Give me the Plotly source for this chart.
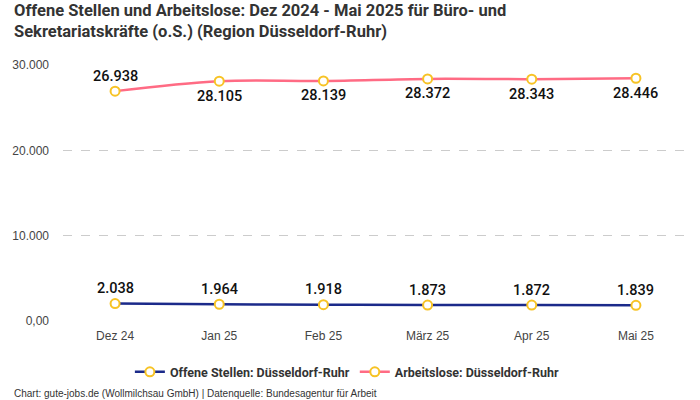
import plotly.graph_objects as go

months = ["Dez 24", "Jan 25", "Feb 25", "März 25", "Apr 25", "Mai 25"]
offene = [2038, 1964, 1918, 1873, 1872, 1839]
arbeitslose = [26938, 28105, 28139, 28372, 28343, 28446]
ytickvals = [0, 10000, 20000, 30000]
yticktext = ["0,00", "10.000", "20.000", "30.000"]

def fmt(v):
    return f"{v:,}".replace(",", ".")

FONT = "Roboto"
AXFONT = "Liberation Sans"
marker = dict(size=9, color="white", line=dict(color="#f7c325", width=2))
lblfont = dict(family=FONT, size=14.5, color="#111", weight=500)

fig = go.Figure()
fig.add_trace(go.Scatter(
    x=months, y=offene, mode="lines+markers",
    name="Offene Stellen: Düsseldorf-Ruhr",
    line=dict(color="#1b2a8a", width=2.5, shape="spline"),
    marker=marker, cliponaxis=False,
))
fig.add_trace(go.Scatter(
    x=months, y=arbeitslose, mode="lines+markers",
    name="Arbeitslose: Düsseldorf-Ruhr",
    line=dict(color="#ff6b84", width=2.5, shape="spline"),
    marker=marker, cliponaxis=False,
))

annotations = []
for m, v in zip(months, offene):
    annotations.append(dict(x=m, y=v, text=fmt(v), showarrow=False, yshift=15,
                            yanchor="middle", font=lblfont))
for i, (m, v) in enumerate(zip(months, arbeitslose)):
    annotations.append(dict(x=m, y=v, text=fmt(v), showarrow=False,
                            yshift=15 if i == 0 else -15,
                            yanchor="middle", font=lblfont))

annotations += [
    dict(
        text="<b>Offene Stellen und Arbeitslose: Dez 2024 - Mai 2025 für Büro- und<br>Sekretariatskräfte (o.S.) (Region Düsseldorf-Ruhr)</b>",
        xref="paper", yref="paper", x=-0.081, y=1.256, xanchor="left", yanchor="top",
        align="left", showarrow=False,
        font=dict(family=FONT, size=16.5, color="#333"),
    ),
    dict(
        text="Chart: gute-jobs.de (Wollmilchsau GmbH) | Datenquelle: Bundesagentur für Arbeit",
        xref="paper", yref="paper", x=-0.081, y=-0.282, xanchor="left", yanchor="middle",
        showarrow=False, font=dict(family=AXFONT, size=10, color="#333"),
    ),
]

fig.update_layout(
    width=700, height=400,
    margin=dict(l=60, r=12, t=65, b=79),
    paper_bgcolor="white", plot_bgcolor="white",
    font=dict(family=FONT, color="#333"),
    xaxis=dict(
        range=[-0.5, 5.5],
        showgrid=False, showline=False, zeroline=False,
        tickfont=dict(family=AXFONT, size=12, color="#444"),
        ticks="", ticklabelstandoff=6,
    ),
    yaxis=dict(
        range=[0, 30000], tickvals=ytickvals, ticktext=yticktext,
        showgrid=True, gridcolor="#cccccc", griddash="dash", gridwidth=1,
        zeroline=False, showline=False,
        tickfont=dict(family=AXFONT, size=12, color="#444"),
        ticklabelstandoff=13,
    ),
    showlegend=True,
    legend=dict(
        orientation="h", x=0.455, xanchor="center", y=-0.2, yanchor="middle",
        font=dict(family=FONT, size=12.5, color="#333", weight="bold"),
        itemwidth=30,
    ),
    annotations=annotations,
)

fig.write_html("out.html", config={"displayModeBar": False},
               post_script="document.body.style.margin='0px';")
